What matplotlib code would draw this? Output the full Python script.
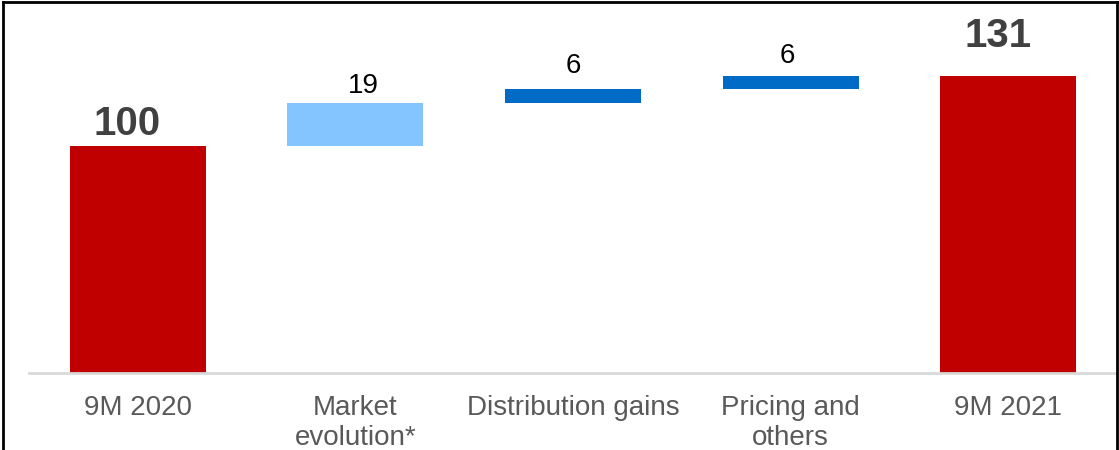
import matplotlib
matplotlib.use("Agg")
import matplotlib.pyplot as plt
from matplotlib.lines import Line2D

plt.rcParams['font.family'] = ['Liberation Sans', 'DejaVu Sans']

# Waterfall data
categories = ["9M 2020", "Market\nevolution*", "Distribution gains", "Pricing and\nothers", "9M 2021"]
values = [100, 19, 6, 6, 131]
is_total = [True, False, False, False, True]

# Styling
colors = ["#C00000", "#85C5FF", "#006BC6", "#006BC6", "#C00000"]
label_dy_px = [11, 10, 16, 13, 29]
label_dx_px = [-11, 8, 0, -3, -10]

W, H, DPI = 1119, 450, 100
fig = plt.figure(figsize=(W / DPI, H / DPI), dpi=DPI)
fig.patch.set_facecolor("white")

# axes: x 29..1117 px, baseline at y=373 px, top at y=2 px
ax_left, ax_right = 29 / W, 1117 / W
ax_bottom, ax_top = 1 - 373 / H, 1 - 2 / H
ax = fig.add_axes([ax_left, ax_bottom, ax_right - ax_left, ax_top - ax_bottom])

px_per_unit = 2.27
ax.set_ylim(0, 371 / px_per_unit)
ax.set_xlim(-0.5, len(categories) - 0.5)

pt = 72 / DPI
running = 0
for i, (v, tot) in enumerate(zip(values, is_total)):
    if tot:
        bottom = 0
        running = v
    else:
        bottom = running
        running += v
    ax.bar(i, v, bottom=bottom, width=0.625, color=colors[i], edgecolor="none", zorder=2)
    top = bottom + v
    offset = (label_dx_px[i] * pt, label_dy_px[i] * pt)
    if tot:
        ax.annotate(f"{v}", xy=(i, top), xytext=offset,
                    textcoords="offset points", ha="center", va="baseline",
                    fontsize=29, fontweight="bold", color="#404040")
    else:
        ax.annotate(f"{v}", xy=(i, top), xytext=offset,
                    textcoords="offset points", ha="center", va="baseline",
                    fontsize=20, color="black")

for s in ["top", "right", "left"]:
    ax.spines[s].set_visible(False)
ax.spines["bottom"].set_color("#D9D9D9")
ax.spines["bottom"].set_linewidth(2)
ax.set_yticks([])
ax.set_xticks(range(len(categories)))
ax.set_xticklabels(categories, fontsize=20, color="#595959", linespacing=1.22)
ax.tick_params(axis="x", length=0, pad=15.5)

# outer frame
lw = 2
fig.add_artist(Line2D([3 / W, 3 / W], [0, 1 - 1.5 / H], color="black", lw=lw, transform=fig.transFigure))
fig.add_artist(Line2D([3 / W, 1117 / W], [1 - 1.5 / H, 1 - 1.5 / H], color="black", lw=lw, transform=fig.transFigure))
fig.add_artist(Line2D([1117 / W, 1117 / W], [0, 1 - 1.5 / H], color="black", lw=lw, transform=fig.transFigure))

fig.savefig("out.png", dpi=DPI)
